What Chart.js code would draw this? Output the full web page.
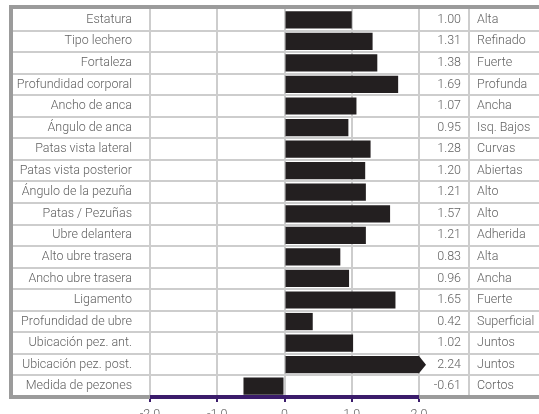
<!DOCTYPE html>
<html>
<head>
<meta charset="utf-8">
<script src="https://cdn.jsdelivr.net/npm/chart.js@4.4.1/dist/chart.umd.min.js"></script>
<style>
    html, body { margin: 0; padding: 0; background: #fff; }
    canvas { display: block; }
</style>
</head>
<body>
<canvas id="rasgosChart" width="539" height="414"></canvas>
<script>
const rasgos = [
    'Estatura', 'Tipo lechero', 'Fortaleza', 'Profundidad corporal', 'Ancho de anca',
    'Ángulo de anca', 'Patas vista lateral', 'Patas vista posterior', 'Ángulo de la pezuña',
    'Patas / Pezuñas', 'Ubre delantera', 'Alto ubre trasera', 'Ancho ubre trasera',
    'Ligamento', 'Profundidad de ubre', 'Ubicación pez. ant.', 'Ubicación pez. post.',
    'Medida de pezones'
];
const valores = [1.00, 1.31, 1.38, 1.69, 1.07, 0.95, 1.28, 1.20, 1.21, 1.57, 1.21, 0.83, 0.96, 1.65, 0.42, 1.02, 2.24, -0.61];
const descripciones = [
    'Alta', 'Refinado', 'Fuerte', 'Profunda', 'Ancha', 'Isq. Bajos', 'Curvas', 'Abiertas',
    'Alto', 'Alto', 'Adherida', 'Alta', 'Ancha', 'Fuerte', 'Superficial', 'Juntos', 'Juntos', 'Cortos'
];
const ejeTicks = [-2, -1, 0, 1, 2];

const X_MIN = -2;
const X_MAX = 2;
const GRIS_BORDE = '#9b9b9b';
const GRIS_LINEA = '#cdcdcd';
const MORADO = '#3b1c6b';
const TEXTO = '#626262';
const FUENTE = { family: 'Roboto', size: 12.5, weight: '300' };

// barras recortadas al rango del eje, la flecha marca las que se pasan
const valoresVisibles = valores.map(v => Math.max(X_MIN, Math.min(X_MAX, v)));

const tablaPlugin = {
    id: 'tabla',
    beforeDatasetsDraw(chart) {
        const { ctx, chartArea: a, scales: { y } } = chart;
        const half = (y.getPixelForValue(1) - y.getPixelForValue(0)) / 2;
        const linea = (x1, y1, x2, y2) => {
            ctx.beginPath();
            ctx.moveTo(x1, y1);
            ctx.lineTo(x2, y2);
            ctx.stroke();
        };
        ctx.save();
        ctx.strokeStyle = GRIS_LINEA;
        ctx.lineWidth = 2;
        for (let i = 1; i < rasgos.length; i++) {
            const py = Math.round(y.getPixelForValue(i) - half);
            linea(13, py, chart.width, py);
        }
        linea(469, a.top, 469, a.bottom);

        // marco gris
        ctx.strokeStyle = GRIS_BORDE;
        ctx.lineWidth = 4;
        linea(9, 7, chart.width, 7);
        linea(11, 5, 11, a.bottom + 2);
        linea(9, a.bottom, a.left, a.bottom);
        linea(a.right, a.bottom, chart.width, a.bottom);
        ctx.restore();
    },
    afterDatasetsDraw(chart) {
        const { ctx, scales: { y } } = chart;
        const meta = chart.getDatasetMeta(0);
        ctx.save();

        // flecha en las barras fuera de rango
        ctx.fillStyle = '#231f20';
        valores.forEach((v, i) => {
            if (v <= X_MAX) return;
            const bar = meta.data[i];
            const h = bar.height / 2;
            ctx.beginPath();
            ctx.moveTo(bar.x, bar.y - h);
            ctx.lineTo(bar.x + 7, bar.y);
            ctx.lineTo(bar.x, bar.y + h);
            ctx.closePath();
            ctx.fill();
        });

        // columnas de la derecha
        ctx.fillStyle = TEXTO;
        ctx.font = `${FUENTE.weight} ${FUENTE.size}px ${FUENTE.family}`;
        ctx.textBaseline = 'middle';
        rasgos.forEach((r, i) => {
            const py = y.getPixelForValue(i);
            ctx.textAlign = 'right';
            ctx.fillText(valores[i].toFixed(2), 461, py);
            ctx.textAlign = 'left';
            ctx.fillText(descripciones[i], 477, py);
        });
        ctx.restore();
    }
};

const ctx = document.getElementById('rasgosChart').getContext('2d');
new Chart(ctx, {
    type: 'bar',
    data: {
        labels: rasgos,
        datasets: [{
            data: valoresVisibles,
            backgroundColor: '#231f20',
            borderWidth: 0,
            barPercentage: 0.8,
            categoryPercentage: 1
        }]
    },
    options: {
        indexAxis: 'y',
        responsive: false,
        devicePixelRatio: 1,
        animation: false,
        layout: {
            padding: { left: 0, right: 120, top: 9, bottom: 0 }
        },
        plugins: {
            legend: { display: false },
            tooltip: { enabled: false }
        },
        scales: {
            x: {
                min: X_MIN,
                max: X_MAX,
                grid: {
                    color: GRIS_LINEA,
                    lineWidth: 2,
                    tickColor: MORADO,
                    tickLength: 5,
                    tickWidth: 2
                },
                border: { color: MORADO, width: 4 },
                ticks: {
                    color: TEXTO,
                    font: FUENTE,
                    padding: 5,
                    maxRotation: 0,
                    callback: value => value === 0 ? '0' : value.toFixed(1)
                },
                afterBuildTicks: axis => {
                    axis.ticks = ejeTicks.map(v => ({ value: v }));
                },
                afterFit: axis => {
                    axis.height = 17;
                    axis.paddingLeft = 0;
                    axis.paddingRight = 0;
                }
            },
            y: {
                grid: { display: false },
                border: { display: false },
                ticks: {
                    color: TEXTO,
                    font: FUENTE,
                    padding: 10,
                    autoSkip: false
                },
                afterFit: axis => {
                    axis.width = 150;
                    axis.paddingTop = 0;
                    axis.paddingBottom = 0;
                }
            }
        }
    },
    plugins: [tablaPlugin]
});
</script>
</body>
</html>
